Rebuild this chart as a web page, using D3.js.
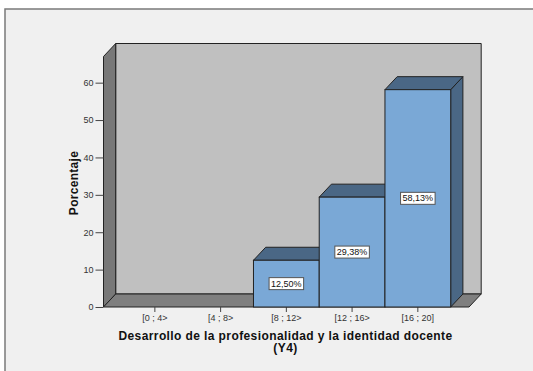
<!DOCTYPE html>
<html>
<head>
<meta charset="utf-8">
<script src="https://cdn.jsdelivr.net/npm/d3@7"></script>
<style>
  html, body { margin: 0; padding: 0; background: #ffffff; }
  svg { display: block; }
</style>
</head>
<body>
<svg id="chart" width="533" height="371"></svg>
<script>
// Score ranges and percentage of respondents in each
const categories = ["[0 ; 4>", "[4 ; 8>", "[8 ; 12>", "[12 ; 16>", "[16 ; 20]"];
const percentages = [0, 0, 12.50, 29.38, 58.13];
const valueLabels = ["", "", "12,50%", "29,38%", "58,13%"];
const yTicks = [0, 10, 20, 30, 40, 50, 60];
const xTitleLines = ["Desarrollo de la profesionalidad y la identidad docente", "(Y4)"];
const yTitle = "Porcentaje";

const svg = d3.select("#chart");
const W = 533, H = 371;
const font = "Liberation Sans, Arial, sans-serif";

// panel frame
svg.append("rect").attr("x", 5).attr("y", 9).attr("width", W).attr("height", H)
  .attr("fill", "#f0f0f0").attr("stroke", "#7a7a7a").attr("stroke-width", 1.5);

// 3D depth offset
const dx = 12.2, dy = 13;
const frontLeft = 103.5, frontRight = 469;
const y = d3.scaleLinear().domain([0, 67]).range([307, 56.5]);
const x = d3.scaleBand().domain(categories).range([122, 450.7]).paddingInner(0).paddingOuter(0);

const y0 = y(0), yTop = y(67);
const line = "#222222";

// back wall
svg.append("polygon")
  .attr("points", [[frontLeft + dx, y0 - dy], [frontLeft + dx, yTop - dy], [frontRight + dx, yTop - dy], [frontRight + dx, y0 - dy]].join(" "))
  .attr("fill", "#c0c0c0").attr("stroke", line).attr("stroke-width", 1);
// left wall
svg.append("polygon")
  .attr("points", [[frontLeft, y0], [frontLeft, yTop], [frontLeft + dx, yTop - dy], [frontLeft + dx, y0 - dy]].join(" "))
  .attr("fill", "#787878").attr("stroke", line).attr("stroke-width", 1);
// floor
svg.append("polygon")
  .attr("points", [[frontLeft, y0], [frontRight, y0], [frontRight + dx, y0 - dy], [frontLeft + dx, y0 - dy]].join(" "))
  .attr("fill", "#7f7f7f").attr("stroke", line).attr("stroke-width", 1);

// y axis
const yAxis = d3.axisLeft(y).tickValues(yTicks).tickSize(8).tickPadding(2).tickFormat(d3.format("d"));
const gy = svg.append("g").attr("transform", `translate(${frontLeft},0)`).call(yAxis);
gy.select(".domain").remove();
gy.selectAll(".tick line").attr("stroke", "#444");
gy.selectAll(".tick text").attr("fill", "#333").style("font-family", font).style("font-size", "9px");

// x axis
const xAxis = d3.axisBottom(x).tickSize(5).tickPadding(3);
const gx = svg.append("g").attr("transform", `translate(0,${y0})`).call(xAxis);
gx.select(".domain").remove();
gx.selectAll(".tick line").attr("stroke", "#444");
gx.selectAll(".tick text").attr("fill", "#333").style("font-family", font).style("font-size", "9px");

// bars
const data = categories.map((c, i) => ({ c, v: percentages[i], label: valueLabels[i] }));
const bars = svg.append("g").selectAll("g").data(data.filter(d => d.v > 0)).join("g");
bars.each(function (d) {
  const g = d3.select(this);
  const x0 = x(d.c), x1 = x(d.c) + x.bandwidth(), yt = y(d.v);
  // side face
  g.append("polygon")
    .attr("points", [[x1, y0], [x1, yt], [x1 + dx, yt - dy], [x1 + dx, y0 - dy]].join(" "))
    .attr("fill", "#4a6785").attr("stroke", line).attr("stroke-width", 1);
  // top face
  g.append("polygon")
    .attr("points", [[x0, yt], [x1, yt], [x1 + dx, yt - dy], [x0 + dx, yt - dy]].join(" "))
    .attr("fill", "#4a6785").attr("stroke", line).attr("stroke-width", 1);
  // front face
  g.append("rect").attr("x", x0).attr("y", yt).attr("width", x1 - x0).attr("height", y0 - yt)
    .attr("fill", "#7aa8d6").attr("stroke", line).attr("stroke-width", 1);
});

// value labels at bar mid-height
bars.each(function (d) {
  const g = d3.select(this);
  const cx = x(d.c) + x.bandwidth() / 2, cy = y(d.v / 2);
  const t = g.append("text").attr("x", cx).attr("y", cy).attr("text-anchor", "middle")
    .attr("dominant-baseline", "central")
    .style("font-family", font).style("font-size", "9px")
    .attr("fill", "#111").text(d.label);
  const bb = t.node().getBBox();
  g.insert("rect", "text").attr("x", bb.x - 2).attr("y", cy - 6).attr("width", bb.width + 4).attr("height", 12)
    .attr("fill", "#ffffff").attr("stroke", "#555").attr("stroke-width", 1);
});

// axis titles
svg.append("g").selectAll("text").data(xTitleLines).join("text")
  .attr("x", 285.5).attr("y", (d, i) => 339.5 + i * 12.5).attr("text-anchor", "middle")
  .style("font-family", font).style("font-size", "12px").style("font-weight", "bold")
  .style("letter-spacing", "0.4px")
  .attr("fill", "#111").text(d => d);

svg.append("text").attr("transform", "translate(77.5,183) rotate(-90)").attr("text-anchor", "middle")
  .style("font-family", font).style("font-size", "12px").style("font-weight", "bold")
  .style("letter-spacing", "0.3px")
  .attr("fill", "#111").text(yTitle);
</script>
</body>
</html>
